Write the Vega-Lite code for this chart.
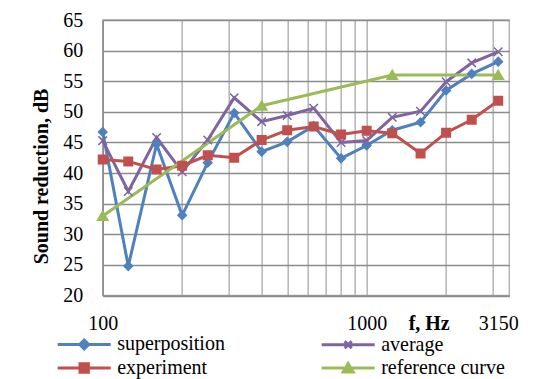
{
  "$schema": "https://vega.github.io/schema/vega-lite/v6.json",
  "width": 406.6,
  "height": 275.5,
  "autosize": {"type": "none"},
  "padding": {"left": 102.7, "top": 20, "right": 30, "bottom": 84},
  "background": "white",
  "config": {
    "view": {"stroke": "#b4b4b4", "strokeWidth": 1.5},
    "font": "Liberation Serif"
  },
  "data": {
    "values": [
      {"f": 100, "series": "superposition", "value": 46.7},
      {"f": 125, "series": "superposition", "value": 24.8},
      {"f": 160, "series": "superposition", "value": 44.7},
      {"f": 200, "series": "superposition", "value": 33.1},
      {"f": 250, "series": "superposition", "value": 41.7},
      {"f": 315, "series": "superposition", "value": 49.8},
      {"f": 400, "series": "superposition", "value": 43.5},
      {"f": 500, "series": "superposition", "value": 45.1},
      {"f": 630, "series": "superposition", "value": 47.7},
      {"f": 800, "series": "superposition", "value": 42.4},
      {"f": 1000, "series": "superposition", "value": 44.5},
      {"f": 1250, "series": "superposition", "value": 47.0},
      {"f": 1600, "series": "superposition", "value": 48.3},
      {"f": 2000, "series": "superposition", "value": 53.5},
      {"f": 2500, "series": "superposition", "value": 56.2},
      {"f": 3150, "series": "superposition", "value": 58.2},
      {"f": 100, "series": "average", "value": 45.3},
      {"f": 125, "series": "average", "value": 37.0},
      {"f": 160, "series": "average", "value": 45.8},
      {"f": 200, "series": "average", "value": 40.2},
      {"f": 250, "series": "average", "value": 45.4},
      {"f": 315, "series": "average", "value": 52.3},
      {"f": 400, "series": "average", "value": 48.4},
      {"f": 500, "series": "average", "value": 49.4},
      {"f": 630, "series": "average", "value": 50.6},
      {"f": 800, "series": "average", "value": 45.0},
      {"f": 1000, "series": "average", "value": 45.3},
      {"f": 1250, "series": "average", "value": 49.1},
      {"f": 1600, "series": "average", "value": 50.1},
      {"f": 2000, "series": "average", "value": 54.9},
      {"f": 2500, "series": "average", "value": 58.0},
      {"f": 3150, "series": "average", "value": 59.8},
      {"f": 100, "series": "experiment", "value": 42.2},
      {"f": 125, "series": "experiment", "value": 41.9},
      {"f": 160, "series": "experiment", "value": 40.6},
      {"f": 200, "series": "experiment", "value": 41.2},
      {"f": 250, "series": "experiment", "value": 42.9},
      {"f": 315, "series": "experiment", "value": 42.5},
      {"f": 400, "series": "experiment", "value": 45.4},
      {"f": 500, "series": "experiment", "value": 47.0},
      {"f": 630, "series": "experiment", "value": 47.6},
      {"f": 800, "series": "experiment", "value": 46.3},
      {"f": 1000, "series": "experiment", "value": 46.9},
      {"f": 1250, "series": "experiment", "value": 46.5},
      {"f": 1600, "series": "experiment", "value": 43.2},
      {"f": 2000, "series": "experiment", "value": 46.6},
      {"f": 2500, "series": "experiment", "value": 48.7},
      {"f": 3150, "series": "experiment", "value": 51.8},
      {"f": 100, "series": "reference curve", "value": 33},
      {"f": 400, "series": "reference curve", "value": 51},
      {"f": 1250, "series": "reference curve", "value": 56},
      {"f": 3150, "series": "reference curve", "value": 56}
    ]
  },
  "resolve": {"axis": {"x": "independent"}},
  "encoding": {
    "y": {
      "field": "value", "type": "quantitative",
      "scale": {"domain": [20, 65], "nice": false, "zero": false},
      "axis": {
        "values": [20, 25, 30, 35, 40, 45, 50, 55, 60, 65],
        "grid": true, "gridColor": "#8c8c8c", "gridWidth": 1.5,
        "ticks": false, "tickSize": 0, "domain": true, "domainColor": "#8c8c8c", "domainWidth": 1.5,
        "labelFont": "Liberation Serif", "labelFontSize": 20, "labelColor": "black", "labelPadding": 20,
        "labelOverlap": false, "labelFlush": false,
        "title": "Sound reduction, dB",
        "titleFont": "Liberation Serif", "titleFontSize": 20, "titleFontWeight": "bold", "titleColor": "black",
        "titleX": -54.7, "titleY": 156, "titleBaseline": "alphabetic", "titleAlign": "center"
      }
    }
  },
  "layer": [
    {
      "mark": {"type": "line", "strokeWidth": 3},
      "encoding": {
        "x": {
          "field": "f", "type": "quantitative",
          "scale": {"type": "log", "domain": [100, 3470], "nice": false},
          "axis": {
            "orient": "bottom", "values": [100, 200, 300, 400, 500, 600, 700, 800, 900, 1000, 2000, 3000],
            "grid": true, "gridColor": "#b4b4b4", "gridWidth": 1.5,
            "labels": false, "ticks": false, "domain": false, "title": null
          }
        },
        "color": {
          "field": "series", "type": "nominal",
          "scale": {"domain": ["superposition", "average", "experiment", "reference curve"], "range": ["#4F81BD", "#8064A2", "#C0504D", "#9BBB59"]},
          "legend": {
            "orient": "none", "legendX": -30, "legendY": 313, "columns": 2, "direction": "horizontal", "title": null,
            "symbolSize": 400, "symbolStrokeWidth": 3,
            "labelFont": "Liberation Serif", "labelFontSize": 20, "labelColor": "black",
            "labelOffset": 21.5, "rowPadding": 1.5, "columnPadding": 90,
            "encode": {
              "symbols": {
                "update": {
                  "shape": {"signal": "datum.value === 'superposition' ? 'M-2.65,0H2.65M0,-0.45L0.45,0L0,0.45L-0.45,0Z' : datum.value === 'average' ? 'M-2.65,0H2.65M-0.35,-0.35L0.35,0.35M-0.35,0.35L0.35,-0.35' : datum.value === 'experiment' ? 'M-2.65,0H2.65M-0.42,-0.42H0.42V0.42H-0.42Z' : 'M-2.65,0H2.65M0,-0.45L0.5,0.4H-0.5Z'"},
                  "fill": {"scale": "color", "field": "value"},
                  "strokeWidth": {"value": 3}
                }
              }
            }
          }
        }
      }
    },
    {
      "transform": [{"filter": "datum.series === 'superposition'"}],
      "mark": {"type": "point", "filled": false, "strokeWidth": 1.5, "size": 72, "opacity": 1, "shape": "M0,-1L1,0L0,1L-1,0Z", "fill": "#4F81BD"},
      "encoding": {
        "x": {
          "field": "f", "type": "quantitative",
          "axis": {
            "orient": "bottom", "values": [100, 1000, 3150], "grid": false, "format": "d",
            "ticks": false, "tickSize": 0, "domain": true, "domainColor": "#8c8c8c", "domainWidth": 1.5,
            "labelFont": "Liberation Serif", "labelFontSize": 20, "labelColor": "black",
            "labelBaseline": "alphabetic", "labelPadding": 34.5, "labelFlush": false, "labelOverlap": false,
            "title": "f, Hz", "titleFont": "Liberation Serif", "titleFontSize": 20, "titleFontWeight": "bold", "titleColor": "black",
            "titleX": 326, "titleY": 34.5, "titleBaseline": "alphabetic", "titleAlign": "center"
          }
        },
        "color": {"field": "series", "type": "nominal", "legend": null}
      }
    },
    {
      "transform": [{"filter": "datum.series === 'average'"}],
      "mark": {"type": "point", "filled": false, "strokeWidth": 1.5, "size": 72, "opacity": 1, "shape": "M-1,-1L1,1M-1,1L1,-1"},
      "encoding": {
        "x": {"field": "f", "type": "quantitative", "axis": null},
        "color": {"field": "series", "type": "nominal", "legend": null}
      }
    },
    {
      "transform": [{"filter": "datum.series === 'experiment'"}],
      "mark": {"type": "point", "filled": false, "strokeWidth": 1.5, "size": 72, "opacity": 1, "shape": "M-1,-1H1V1H-1Z", "fill": "#C0504D"},
      "encoding": {
        "x": {"field": "f", "type": "quantitative", "axis": null},
        "color": {"field": "series", "type": "nominal", "legend": null}
      }
    },
    {
      "transform": [{"filter": "datum.series === 'reference curve'"}],
      "mark": {"type": "point", "filled": false, "strokeWidth": 1.5, "size": 90, "opacity": 1, "shape": "M0,-1L1.1,0.9H-1.1Z", "fill": "#9BBB59"},
      "encoding": {
        "x": {"field": "f", "type": "quantitative", "axis": null},
        "color": {"field": "series", "type": "nominal", "legend": null}
      }
    }
  ]
}
